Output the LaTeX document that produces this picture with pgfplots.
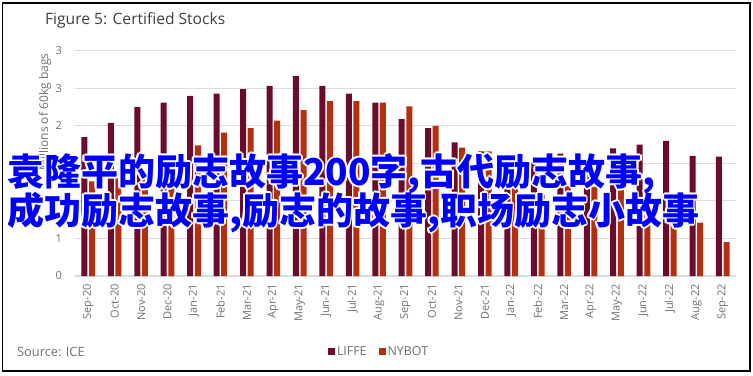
\documentclass[border=0pt]{standalone}
\usepackage{pgfplots}
\pgfplotsset{compat=1.18}
\usepackage{fontspec}
\setmainfont{Open Sans}
\newfontfamily\cjk{Noto Sans CJK SC}
\definecolor{liffe}{HTML}{6C0B2B}
\definecolor{nybot}{HTML}{B2300F}
\definecolor{gridc}{HTML}{DCDCDC}
\definecolor{lbl}{HTML}{707070}
\definecolor{ttl}{HTML}{404040}
\definecolor{ovl}{HTML}{0000FF}
\begin{document}
\begin{tikzpicture}[x=1bp,y=1bp]
\useasboundingbox (0,0) rectangle (753,375);
\fill[white] (0,0) rectangle (753,375);
\draw[line width=1.6bp, black] (2.5,4) rectangle (750,372);
\node[anchor=west, inner sep=0, text=ttl, font=\fontsize{15.6bp}{18bp}\selectfont] at (45,355) {Figure 5: Certified Stocks};
\node[anchor=west, inner sep=0, text=lbl, font=\fontsize{12.8bp}{15bp}\selectfont] at (17,23) {Source: ICE};
\begin{axis}[
  at={(75bp,99bp)}, anchor=south west,
  width=661bp, height=225.3bp, scale only axis,
  xmin=-0.5, xmax=24.5, ymin=0, ymax=3,
  enlargelimits=false,
  axis line style={draw=none},
  major tick length=0pt,
  ymajorgrids, grid style={gridc, line width=1.1bp},
  ytick={0,0.5,1,1.5,2,2.5,3},
  yticklabels={0,1,1,2,2,3,3},
  xtick={0,...,24},
  xticklabels={Sep-20,Oct-20,Nov-20,Dec-20,Jan-21,Feb-21,Mar-21,Apr-21,May-21,Jun-21,Jul-21,Aug-21,Sep-21,Oct-21,Nov-21,Dec-21,Jan-22,Feb-22,Mar-22,Apr-22,May-22,Jun-22,Jul-22,Aug-22,Sep-22},
  /pgf/number format/assume math mode=true,
  xticklabel style={rotate=90, anchor=east, inner sep=0pt, text=lbl, font=\fontsize{11bp}{13bp}\selectfont},
  yticklabel style={anchor=east, inner sep=0pt, text=lbl, font=\fontsize{11bp}{13bp}\selectfont},
  xticklabel shift=8bp,
  yticklabel shift=13bp,
  ylabel={Millions of 60kg bags},
  ylabel style={at={(axis description cs:-0.0454,0.728)}, anchor=center, text=lbl, font=\fontsize{12bp}{14bp}\selectfont},
  ybar=1.6bp, bar width=6bp,
  legend columns=2,
  legend style={draw=none, fill=none, at={(axis description cs:0.46,-0.337)}, anchor=center,
    font=\fontsize{12.4bp}{14bp}\selectfont, text=lbl,
    /tikz/every even column/.append style={column sep=10bp}},
  legend image code/.code={\fill[#1] (0bp,-3.5bp) rectangle (7bp,3.5bp);},
]
\addplot[fill=liffe, draw=none] coordinates {
(0,1.85) (1,2.04) (2,2.25) (3,2.31) (4,2.40) (5,2.43) (6,2.49) (7,2.53) (8,2.66) (9,2.53) (10,2.43) (11,2.31) (12,2.09) (13,1.97) (14,1.78) (15,1.66) (16,1.53) (17,1.53) (18,1.63) (19,1.56) (20,1.70) (21,1.75) (22,1.80) (23,1.60) (24,1.59)};
\addplot[fill=nybot, draw=none] coordinates {
(0,1.26) (1,1.30) (2,1.40) (3,1.52) (4,1.74) (5,1.91) (6,1.97) (7,2.07) (8,2.21) (9,2.33) (10,2.33) (11,2.31) (12,2.26) (13,2.00) (14,1.71) (15,1.66) (16,1.30) (17,1.08) (18,1.22) (19,1.19) (20,1.15) (21,1.04) (22,0.76) (23,0.71) (24,0.45)};
\legend{LIFFE, NYBOT}
\end{axis}
\foreach \dx/\dy in {1.8/0,-1.8/0,0/1.8,0/-1.8,1.3/1.3,-1.3/1.3,1.3/-1.3,-1.3/-1.3}{
  \node[anchor=base west, inner sep=0, text=white, font=\cjk\bfseries\fontsize{37bp}{40bp}\selectfont, xshift=\dx bp, yshift=\dy bp] at (7,189.5) {袁隆平的励志故事200字,古代励志故事,};
  \node[anchor=base west, inner sep=0, text=white, font=\cjk\bfseries\fontsize{37bp}{40bp}\selectfont, xshift=\dx bp, yshift=\dy bp] at (7,150.5) {成功励志故事,励志的故事,职场励志小故事};
}
\node[anchor=base west, inner sep=0, text=ovl, font=\cjk\bfseries\fontsize{37bp}{40bp}\selectfont] at (7,189.5) {袁隆平的励志故事200字,古代励志故事,};
\node[anchor=base west, inner sep=0, text=ovl, font=\cjk\bfseries\fontsize{37bp}{40bp}\selectfont] at (7,150.5) {成功励志故事,励志的故事,职场励志小故事};
\end{tikzpicture}
\end{document}
